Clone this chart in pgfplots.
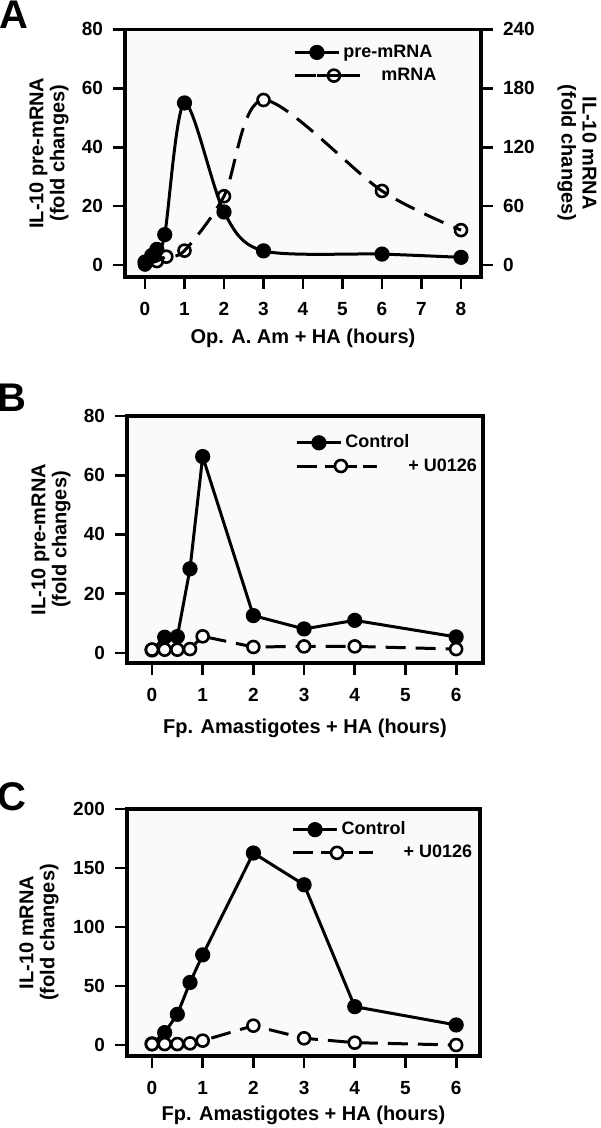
\documentclass[border=0pt]{standalone}
\usepackage{fontspec}
\setmainfont{Liberation Sans}
\usepackage{pgfplots}
\pgfplotsset{compat=1.18}

\pgfplotsset{
  panel/.style={
    scale only axis, anchor=south west,
    axis line style={line width=1.7pt},
    every tick/.style={line width=1.4pt, black},
    tick align=outside, major tick length=6pt,
    tick pos=left,
    /pgf/number format/assume math mode=true,
    ticklabel style={font=\fontsize{9.5}{11}\selectfont\bfseries},
    xticklabel style={yshift=-3pt},
    yticklabel style={xshift=-1.5pt},
    axis background/.style={fill=black!2},
    legend cell align=left,
    legend style={draw=none, fill=none, inner sep=0pt, row sep=0pt,
      anchor=north west, font=\fontsize{9}{10}\selectfont\bfseries,
      nodes={inner sep=1.5pt, text height=6.8pt, text depth=1.8pt}},
    clip=false,
  },
  xlab/.style={every axis x label/.style={at={(rel axis cs:0.5,0)}, yshift=#1,
    anchor=center, font=\fontsize{10}{11}\selectfont\bfseries}},
  ylab/.style={every axis y label/.style={at={(rel axis cs:0,0.5)}, xshift=#1,
    rotate=90, anchor=center, align=center,
    font=\fontsize{10}{10.5}\selectfont\bfseries}},
  ctrl/.style={black, line width=1.5pt, mark=*, mark size=3.3pt,
    mark options={solid, fill=black, line width=1pt}},
  inh/.style={black, line width=1.5pt, dash pattern=on 10pt off 5pt,
    mark=*, mark size=3pt, mark options={solid, fill=white, line width=1.3pt}},
  legsolid/.style={legend image code/.code={
    \draw[##1] (0pt,0pt) -- (22pt,0pt);
    \draw[##1] plot coordinates {(11pt,0pt)};}},
  legdashA/.style={legend image code/.code={
    \path (0pt,0pt) -- (22pt,0pt);
    \begin{scope}[overlay]
    \draw[##1,solid] (0pt,0pt) -- (7.5pt,0pt);
    \draw[##1,solid] (11pt,0pt) -- (32.5pt,0pt);
    \draw[##1] plot coordinates {(19.5pt,0pt)};
    \end{scope}}},
  legdashB/.style={legend image code/.code={
    \path (0pt,0pt) -- (22pt,0pt);
    \begin{scope}[overlay]
    \draw[##1,solid] (0pt,0pt) -- (10pt,0pt);
    \draw[##1,solid] (14pt,0pt) -- (30pt,0pt);
    \draw[##1,solid] (33pt,0pt) -- (40pt,0pt);
    \draw[##1] plot coordinates {(22pt,0pt)};
    \end{scope}}},
}

\begin{document}
\begin{tikzpicture}
\useasboundingbox (0,0) rectangle (300pt,564pt);

% ---------------- A ----------------
\begin{axis}[panel,
  at={(62.5pt,425.5pt)}, width=178pt, height=123.85pt,
  xmin=-0.506, xmax=8.506, ymin=-4.07, ymax=80,
  xtick={0,1,...,8}, ytick={0,20,...,80},
  xlab=-30.5pt, ylab=-38pt,
  xlabel={Op. A. Am + HA (hours)},
  ylabel={IL-10 pre-mRNA\\(fold changes)},
  legend style={at={(rel axis cs:0.472,0.955)}},
]
\addplot[ctrl, smooth, legsolid] coordinates {
  (0,1) (0.17,3.2) (0.3,5.3) (0.5,10.3) (1,55) (2,18) (3,4.8) (6,3.7) (8,2.6)
};
\addlegendentry{pre-mRNA}
\addlegendimage{inh, mark=o, mark options={solid, line width=1.3pt}, dash pattern=on 10.5pt off 5.5pt, legdashA}
\addlegendentry{\hspace*{19pt}mRNA}
\end{axis}
\begin{axis}[panel,
  at={(62.5pt,425.5pt)}, width=178pt, height=123.85pt,
  xmin=-0.506, xmax=8.506, ymin=-12.21, ymax=240,
  axis x line=none, axis y line*=right,
  ytick pos=right, yticklabel pos=right,
  ytick={0,60,...,240},
  axis background/.style={},
  yticklabel style={xshift=3pt},
  every axis y label/.style={at={(rel axis cs:1,0.5)}, xshift=48pt, rotate=-90,
    anchor=center, align=center, font=\fontsize{10}{10.5}\selectfont\bfseries},
  ylabel={IL-10 mRNA\\(fold changes)},
]
\addplot[inh, smooth, mark=o, mark options={solid, line width=1.3pt}, dash pattern=on 10.5pt off 5.5pt] coordinates {
  (0,0.5) (0.3,4) (0.54,8.5) (1,14.6) (2,70) (3,168) (6,75.4) (8,35.5)
};
\end{axis}

% ---------------- B ----------------
\begin{axis}[panel,
  at={(63.5pt,232.5pt)}, width=178pt, height=123.5pt,
  xmin=-0.493, xmax=6.53, ymin=-3.4, ymax=80,
  xtick={0,1,...,6}, ytick={0,20,...,80},
  xlab=-32.5pt, ylab=-38pt,
  xlabel={Fp. Amastigotes + HA (hours)},
  ylabel={IL-10 pre-mRNA\\(fold changes)},
  legend style={at={(rel axis cs:0.472,0.94)}},
]
\addplot[ctrl, legsolid] coordinates {
  (0,1) (0.25,5.3) (0.5,5.5) (0.75,28.4) (1,66.3) (2,12.6) (3,8.1) (4,11) (6,5.4)
};
\addlegendentry{Control}
\addplot[inh, legdashB] coordinates {
  (0,1.1) (0.25,1.1) (0.5,1.1) (0.75,1.3) (1,5.6) (2,2) (3,2.2) (4,2.2) (6,1.3)
};
\addlegendentry{\hspace*{31.5pt}+ U0126}
\end{axis}

% ---------------- C ----------------
\begin{axis}[panel,
  at={(63.5pt,36pt)}, width=176.5pt, height=123.5pt,
  xmin=-0.493, xmax=6.47, ymin=-9.3, ymax=200,
  xtick={0,1,...,6}, ytick={0,50,...,200},
  xlab=-29.5pt, ylab=-44pt,
  xlabel={Fp. Amastigotes + HA (hours)},
  ylabel={IL-10 mRNA\\(fold changes)},
  legend style={at={(rel axis cs:0.465,0.965)}},
]
\addplot[ctrl, legsolid] coordinates {
  (0,1) (0.25,10.5) (0.5,26) (0.75,53) (1,76.4) (2,162.7) (3,135.8) (4,32.5) (6,17)
};
\addlegendentry{Control}
\addplot[inh, legdashB] coordinates {
  (0,0.8) (0.25,0.8) (0.5,0.8) (0.75,1.4) (1,3.7) (2,16.4) (3,5.7) (4,2) (6,0)
};
\addlegendentry{\hspace*{31pt}+ U0126}
\end{axis}

\node[font=\fontsize{20}{20}\selectfont\bfseries] at (7pt,556.5pt) {A};
\node[font=\fontsize{20}{20}\selectfont\bfseries] at (6pt,365pt) {B};
\node[font=\fontsize{20}{20}\selectfont\bfseries] at (6pt,165.5pt) {C};
\end{tikzpicture}
\end{document}
